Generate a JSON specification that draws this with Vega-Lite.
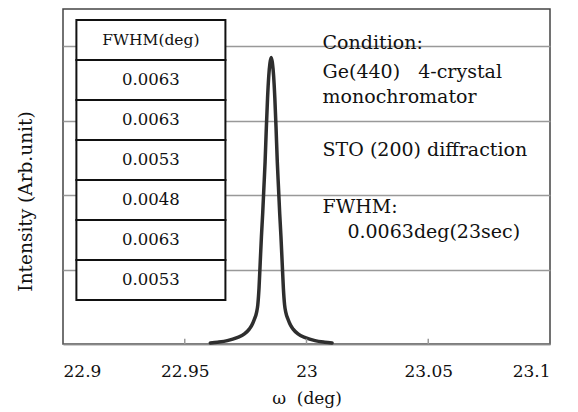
{
  "$schema": "https://vega.github.io/schema/vega-lite/v6.json",
  "width": 487,
  "height": 335,
  "autosize": {"type": "none"},
  "padding": {"left": 63, "top": 9, "right": 28, "bottom": 68},
  "background": "white",
  "config": {
    "view": {"stroke": "#444", "strokeWidth": 1.5},
    "font": "DejaVu Serif"
  },
  "layer": [
    {
      "data": {"values": [
        {"omega": 22.9605, "intensity": 0.03},
        {"omega": 22.9635, "intensity": 0.05},
        {"omega": 22.9675, "intensity": 0.09},
        {"omega": 22.9715, "intensity": 0.17},
        {"omega": 22.9745, "intensity": 0.27},
        {"omega": 22.9765, "intensity": 0.4},
        {"omega": 22.9775, "intensity": 0.5},
        {"omega": 22.9785, "intensity": 0.65},
        {"omega": 22.9795, "intensity": 0.85},
        {"omega": 22.98, "intensity": 1.05},
        {"omega": 22.9805, "intensity": 1.5},
        {"omega": 22.981, "intensity": 2.2},
        {"omega": 22.9815, "intensity": 2.9},
        {"omega": 22.982, "intensity": 3.5},
        {"omega": 22.9825, "intensity": 4.2},
        {"omega": 22.983, "intensity": 4.9},
        {"omega": 22.9835, "intensity": 5.8},
        {"omega": 22.984, "intensity": 6.6},
        {"omega": 22.9845, "intensity": 7.2},
        {"omega": 22.985, "intensity": 7.55},
        {"omega": 22.9855, "intensity": 7.7},
        {"omega": 22.986, "intensity": 7.55},
        {"omega": 22.9865, "intensity": 7.2},
        {"omega": 22.987, "intensity": 6.6},
        {"omega": 22.9875, "intensity": 5.8},
        {"omega": 22.988, "intensity": 4.9},
        {"omega": 22.9885, "intensity": 4.2},
        {"omega": 22.989, "intensity": 3.5},
        {"omega": 22.9895, "intensity": 2.9},
        {"omega": 22.99, "intensity": 2.2},
        {"omega": 22.9905, "intensity": 1.5},
        {"omega": 22.991, "intensity": 1.05},
        {"omega": 22.9915, "intensity": 0.85},
        {"omega": 22.9925, "intensity": 0.65},
        {"omega": 22.9935, "intensity": 0.5},
        {"omega": 22.9945, "intensity": 0.4},
        {"omega": 22.9965, "intensity": 0.27},
        {"omega": 22.9995, "intensity": 0.17},
        {"omega": 23.0035, "intensity": 0.09},
        {"omega": 23.0075, "intensity": 0.05},
        {"omega": 23.0105, "intensity": 0.03}
      ]},
      "mark": {"type": "line", "color": "#2e2e2e", "strokeWidth": 3.5, "interpolate": "monotone", "strokeCap": "round"},
      "encoding": {
        "x": {
          "field": "omega", "type": "quantitative",
          "scale": {"domain": [22.9, 23.1], "nice": false, "zero": false},
          "axis": {
            "values": [22.9, 22.95, 23, 23.05, 23.1],
            "format": "~g",
            "ticks": false,
            "grid": false,
            "domainColor": "#888",
            "domainWidth": 1.5,
            "labelFont": "DejaVu Serif",
            "labelFontSize": 17,
            "labelColor": "#111",
            "labelPadding": 19,
            "title": "ω\u00a0\u00a0(deg)",
            "titleFont": "DejaVu Serif",
            "titleFontSize": 17,
            "titleFontWeight": "normal",
            "titleColor": "#111",
            "titlePadding": 11
          }
        },
        "y": {
          "field": "intensity", "type": "quantitative",
          "scale": {"domain": [0, 9], "nice": false},
          "axis": {
            "values": [0, 1, 2, 3, 4, 5, 6, 7, 8, 9],
            "labels": false,
            "ticks": false,
            "domain": false,
            "gridColor": "#999",
            "gridWidth": 1.5,
            "title": "Intensity (Arb.unit)",
            "titleFont": "DejaVu Serif",
            "titleFontSize": 18.5,
            "titleFontWeight": "normal",
            "titleColor": "#111",
            "titleAngle": -90,
            "titleX": -38,
            "titleY": 192,
            "titleBaseline": "middle",
            "titleAlign": "center"
          }
        }
      }
    },
    {
      "data": {"values": [
        {"tick": 22.95, "y0": 0, "y1": 0.14},
        {"tick": 23.0, "y0": 0, "y1": 0.14},
        {"tick": 23.05, "y0": 0, "y1": 0.14}
      ]},
      "mark": {"type": "rule", "color": "#999", "strokeWidth": 1.5},
      "encoding": {
        "x": {"field": "tick", "type": "quantitative"},
        "y": {"field": "y0", "type": "quantitative"},
        "y2": {"field": "y1"}
      }
    },
    {
      "data": {"values": [
        {"label": "FWHM(deg)", "xa": 22.9055, "xb": 22.9667, "ya": 7.63, "yb": 8.705, "xc": 22.9361, "yc": 8.17, "header": true},
        {"label": "0.0063", "xa": 22.9055, "xb": 22.9667, "ya": 6.555, "yb": 7.63, "xc": 22.9361, "yc": 7.09, "header": false},
        {"label": "0.0063", "xa": 22.9055, "xb": 22.9667, "ya": 5.48, "yb": 6.555, "xc": 22.9361, "yc": 6.02, "header": false},
        {"label": "0.0053", "xa": 22.9055, "xb": 22.9667, "ya": 4.406, "yb": 5.48, "xc": 22.9361, "yc": 4.94, "header": false},
        {"label": "0.0048", "xa": 22.9055, "xb": 22.9667, "ya": 3.33, "yb": 4.406, "xc": 22.9361, "yc": 3.87, "header": false},
        {"label": "0.0063", "xa": 22.9055, "xb": 22.9667, "ya": 2.257, "yb": 3.33, "xc": 22.9361, "yc": 2.79, "header": false},
        {"label": "0.0053", "xa": 22.9055, "xb": 22.9667, "ya": 1.18, "yb": 2.257, "xc": 22.9361, "yc": 1.72, "header": false}
      ]},
      "layer": [
        {
          "mark": {"type": "rect", "fill": "white", "stroke": "#111", "strokeWidth": 2},
          "encoding": {
            "x": {"field": "xa", "type": "quantitative"},
            "x2": {"field": "xb"},
            "y": {"field": "ya", "type": "quantitative"},
            "y2": {"field": "yb"}
          }
        },
        {
          "mark": {"type": "text", "font": "DejaVu Serif", "color": "#111", "align": "center", "baseline": "middle"},
          "encoding": {
            "x": {"field": "xc", "type": "quantitative"},
            "y": {"field": "yc", "type": "quantitative"},
            "text": {"field": "label"},
            "size": {"condition": {"test": "datum.header", "value": 15.5}, "value": 16.5}
          }
        }
      ]
    },
    {
      "data": {"values": [
        {"note": "Condition:", "nx": 23.0066, "ny": 8.09},
        {"note": "Ge(440)\u00a0\u00a0\u00a04-crystal", "nx": 23.0066, "ny": 7.31},
        {"note": "monochromator", "nx": 23.0066, "ny": 6.64},
        {"note": "STO (200) diffraction", "nx": 23.0066, "ny": 5.21},
        {"note": "FWHM:", "nx": 23.0066, "ny": 3.68},
        {"note": "0.0063deg(23sec)", "nx": 23.0168, "ny": 3.01}
      ]},
      "mark": {"type": "text", "font": "DejaVu Serif", "fontSize": 19, "color": "#111", "align": "left", "baseline": "middle"},
      "encoding": {
        "x": {"field": "nx", "type": "quantitative"},
        "y": {"field": "ny", "type": "quantitative"},
        "text": {"field": "note"}
      }
    }
  ]
}
